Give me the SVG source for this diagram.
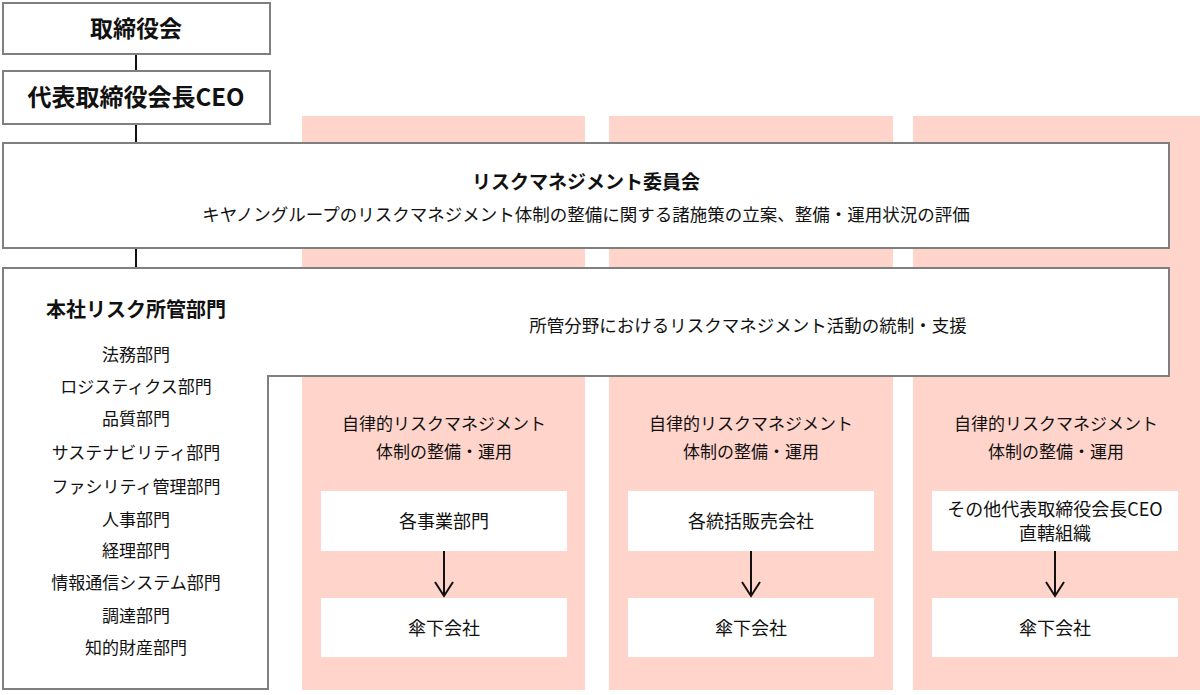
<svg xmlns="http://www.w3.org/2000/svg" width="1200" height="695" viewBox="0 0 1200 695">
<style>
text{font-family:"Noto Sans CJK JP","Noto Sans",sans-serif;fill:#111;text-anchor:middle}
.box{fill:#fff;stroke:#7f7f7f;stroke-width:2}
.col{fill:#ffd4cb}
.in{fill:#fff}
.b{font-weight:bold}
.t17{font-size:17px}
.t175{font-size:17.5px}
.t18{font-size:18px}
.line{stroke:#111;stroke-width:2;fill:none}
</style>
<defs>
<marker id="ah" viewBox="0 0 18 20" refX="16" refY="10" markerWidth="18" markerHeight="20" markerUnits="userSpaceOnUse" orient="auto">
<path d="M2,1 L16,10 L2,19" fill="none" stroke="#111" stroke-width="2"/>
</marker>
</defs>
<g id="columns">
<rect class="col" x="302" y="116" width="283" height="574"/>
<rect class="col" x="609" y="116" width="284" height="574"/>
<rect class="col" x="913" y="116" width="287" height="574"/>
</g>
<g id="connectors">
<line class="line" x1="136" y1="54" x2="136" y2="71"/>
<line class="line" x1="136" y1="124" x2="136" y2="143"/>
<line class="line" x1="136" y1="248" x2="136" y2="268"/>
<line class="line" x1="444" y1="551" x2="444" y2="596" marker-end="url(#ah)"/>
<line class="line" x1="751" y1="551" x2="751" y2="596" marker-end="url(#ah)"/>
<line class="line" x1="1055" y1="551" x2="1055" y2="596" marker-end="url(#ah)"/>
</g>
<g id="board">
<rect class="box" x="3" y="3" width="267" height="51"/>
<text x="136" y="37" class="b" font-size="23">取締役会</text>
</g>
<g id="ceo">
<rect class="box" x="3" y="71" width="267" height="53"/>
<text x="136" y="106" class="b" font-size="24">代表取締役会長CEO</text>
</g>
<g id="committee">
<rect class="box" x="3" y="143" width="1166" height="105"/>
<text x="586" y="189" class="b" font-size="19">リスクマネジメント委員会</text>
<text x="586" y="221" class="t175">キヤノングループのリスクマネジメント体制の整備に関する諸施策の立案、整備・運用状況の評価</text>
</g>
<g id="hq">
<path class="box" d="M3,268 H1169 V376 H268 V689 H3 Z"/>
<text x="136" y="317" class="b" font-size="20">本社リスク所管部門</text>
<text x="748" y="332" class="t175">所管分野におけるリスクマネジメント活動の統制・支援</text>
<g class="t17">
<text x="136" y="361">法務部門</text>
<text x="136" y="393">ロジスティクス部門</text>
<text x="136" y="425">品質部門</text>
<text x="136" y="459">サステナビリティ部門</text>
<text x="136" y="493">ファシリティ管理部門</text>
<text x="136" y="526">人事部門</text>
<text x="136" y="557">経理部門</text>
<text x="136" y="589">情報通信システム部門</text>
<text x="136" y="622">調達部門</text>
<text x="136" y="654">知的財産部門</text>
</g>
</g>
<g id="col1-label" class="t17">
<text x="444" y="430">自律的リスクマネジメント</text>
<text x="444" y="458">体制の整備・運用</text>
</g>
<g id="col2-label" class="t17">
<text x="751" y="430">自律的リスクマネジメント</text>
<text x="751" y="458">体制の整備・運用</text>
</g>
<g id="col3-label" class="t17">
<text x="1056" y="430">自律的リスクマネジメント</text>
<text x="1056" y="458">体制の整備・運用</text>
</g>
<g id="bu">
<rect class="in" x="321" y="491" width="246" height="60"/>
<text x="444" y="528" class="t18">各事業部門</text>
</g>
<g id="sub1">
<rect class="in" x="321" y="598" width="246" height="59"/>
<text x="444" y="635" class="t18">傘下会社</text>
</g>
<g id="sales">
<rect class="in" x="628" y="491" width="246" height="60"/>
<text x="751" y="528" class="t18">各統括販売会社</text>
</g>
<g id="sub2">
<rect class="in" x="628" y="598" width="246" height="59"/>
<text x="751" y="635" class="t18">傘下会社</text>
</g>
<g id="direct">
<rect class="in" x="932" y="491" width="246" height="60"/>
<text x="1055" y="516" class="t18">その他代表取締役会長CEO</text>
<text x="1055" y="540" class="t18">直轄組織</text>
</g>
<g id="sub3">
<rect class="in" x="932" y="598" width="246" height="59"/>
<text x="1055" y="635" class="t18">傘下会社</text>
</g>
</svg>
